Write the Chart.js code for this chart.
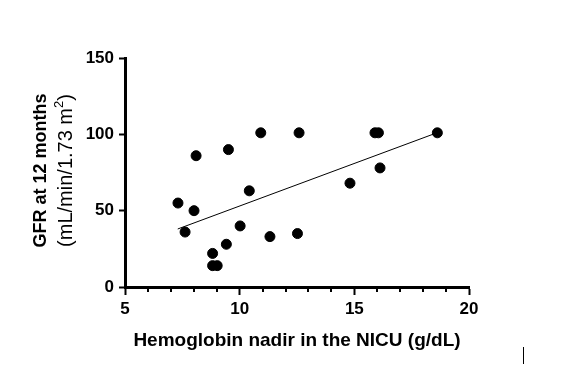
<!DOCTYPE html>
<html>
<head>
<meta charset="utf-8">
<script src="https://cdn.jsdelivr.net/npm/chart.js@4"></script>
<style>
  html, body { margin: 0; padding: 0; background: #fff; }
  #wrap { position: relative; width: 573px; height: 390px; }
</style>
</head>
<body>
<div id="wrap"><canvas id="myChart" width="573" height="390"></canvas></div>
<script>
// hemoglobin nadir (g/dL) vs GFR at 12 months
const hemoglobin = [7.31, 7.62, 8.01, 8.10, 8.82, 8.82, 9.02, 9.42, 9.51, 10.02,
  10.42, 10.92, 11.32, 12.52, 12.59, 14.81, 15.9, 16.05, 16.12, 18.62];
const gfr = [55, 36, 50, 86, 22, 14, 14, 28, 90, 40,
  63, 101, 33, 35, 101, 68, 101, 101, 78, 101];
// fitted line end points
const fitX = [7.3, 18.6];
const fitY = [38, 101];
const xTicks = [5, 10, 15, 20];
const yTicks = [0, 50, 100, 150];

window.onload = () => {
  const canvas = document.querySelector("#myChart");
  const ctx = canvas.getContext("2d");
  const font = "'Liberation Sans', Arial, sans-serif";

  const extras = {
    id: "extras",
    afterDraw(chart) {
      const c = chart.ctx;
      const x = chart.scales.x;
      const bottom = chart.chartArea.bottom;
      c.save();
      // minor ticks on x axis
      c.strokeStyle = "#000";
      c.lineWidth = 2;
      for (let v = 6; v < 20; v++) {
        if (v % 5 === 0) continue;
        const px = Math.round(x.getPixelForValue(v));
        c.beginPath();
        c.moveTo(px, bottom);
        c.lineTo(px, bottom + 5);
        c.stroke();
      }
      // y axis title, two lines
      const cy = (chart.chartArea.top + chart.chartArea.bottom) / 2 - 2;
      c.fillStyle = "#000";
      c.textAlign = "center";
      c.textBaseline = "middle";
      c.save();
      c.translate(41, cy);
      c.rotate(-Math.PI / 2);
      c.font = "bold 18px " + font;
      c.fillText("GFR at 12 months", 0, 0);
      c.restore();
      c.save();
      c.translate(66, cy);
      c.rotate(-Math.PI / 2);
      c.font = "20px " + font;
      const main = "(mL/min/1.73 m";
      const w1 = c.measureText(main).width;
      c.font = "13px " + font;
      const w2 = c.measureText("2").width;
      c.font = "20px " + font;
      const w3 = c.measureText(")").width;
      const start = -(w1 + w2 + w3) / 2;
      c.textAlign = "left";
      c.fillText(main, start, 0);
      c.font = "13px " + font;
      c.fillText("2", start + w1, -7);
      c.font = "20px " + font;
      c.fillText(")", start + w1 + w2, 0);
      c.restore();
      // small mark at bottom right
      c.lineWidth = 1;
      c.beginPath();
      c.moveTo(523.5, 347);
      c.lineTo(523.5, 364);
      c.stroke();
      c.restore();
    },
  };

  const myChart = new Chart(ctx, {
    type: "scatter",
    data: {
      datasets: [
        {
          label: "Patients",
          data: hemoglobin.map((h, i) => ({ x: h, y: gfr[i] })),
          backgroundColor: "#000",
          borderColor: "#000",
          pointRadius: 5,
          pointHoverRadius: 5,
        },
        {
          label: "Fit",
          type: "line",
          data: fitX.map((h, i) => ({ x: h, y: fitY[i] })),
          borderColor: "#000",
          borderWidth: 1,
          pointRadius: 0,
          fill: false,
        },
      ],
    },
    options: {
      responsive: false,
      animation: false,
      events: [],
      layout: { padding: { left: 0, top: 58, right: 104, bottom: 0 } },
      plugins: {
        legend: { display: false },
        tooltip: { enabled: false },
      },
      scales: {
        x: {
          type: "linear",
          min: 5,
          max: 20,
          afterFit: (scale) => { scale.height = 103; },
          afterBuildTicks: (scale) => { scale.ticks = xTicks.map((v) => ({ value: v })); },
          border: { display: true, color: "#000", width: 3 },
          grid: { drawOnChartArea: false, drawTicks: true, tickLength: 8, tickColor: "#000", tickWidth: 2 },
          ticks: { color: "#000", padding: 4, font: { family: font, size: 17, weight: "bold" } },
          title: {
            display: true,
            text: "Hemoglobin nadir in the NICU (g/dL)",
            color: "#000",
            font: { family: font, size: 19, weight: "bold" },
            padding: { top: 0, bottom: 38 },
          },
        },
        y: {
          type: "linear",
          min: 0,
          max: 150,
          afterFit: (scale) => { scale.width = 125; },
          afterBuildTicks: (scale) => { scale.ticks = yTicks.map((v) => ({ value: v })); },
          border: { display: true, color: "#000", width: 3 },
          grid: { drawOnChartArea: false, drawTicks: true, tickLength: 6, tickColor: "#000", tickWidth: 2 },
          ticks: { color: "#000", padding: 5, font: { family: font, size: 17, weight: "bold" } },
        },
      },
    },
    plugins: [extras],
  });
};
</script>
</body>
</html>
